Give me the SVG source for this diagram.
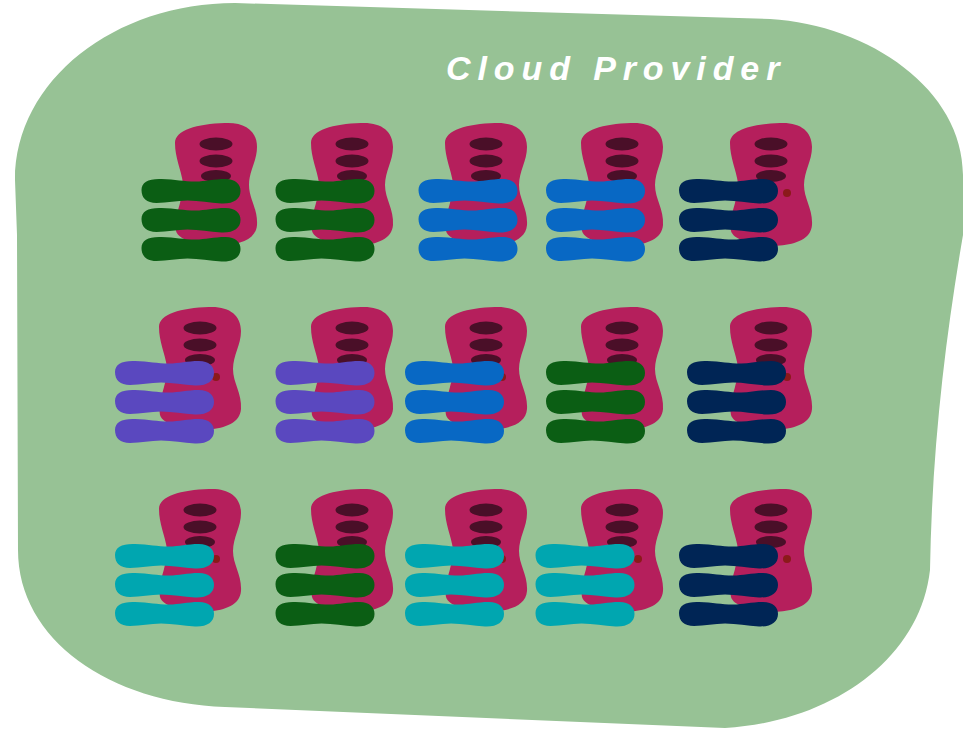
<svg xmlns="http://www.w3.org/2000/svg" xmlns:xlink="http://www.w3.org/1999/xlink" width="963" height="731" viewBox="0 0 963 731">
<style>
.bg{fill:#97c295}
.body{fill:#b51f5c}
.slot{fill:#4a0f28}
.dot{fill:#8b1a1a}
.green{fill:#0b5e14}
.blue{fill:#0868c4}
.navy{fill:#002555}
.purple{fill:#5a48bf}
.teal{fill:#00a6b0}
.title{font-family:"Liberation Sans",Arial,sans-serif;font-size:34px;font-style:italic;font-weight:700;fill:#fff;letter-spacing:6.9px}
</style>
<defs>
<g id="server">
<path class="body" d="M0,20 C0,7 22,1 50,0 C70,-1 82,8 82,24 C82,38 74,48 74,62 C74,76 83,86 82,102 C81,116 66,121 50,122.5 C33,124 4,119 1,108 C-1,98 3,88 5,80 C7,72 9,68 8,60 C6,46 0,35 0,20 Z"/>
<ellipse class="slot" cx="41" cy="21" rx="16.5" ry="6.5"/>
<ellipse class="slot" cx="41" cy="38" rx="16.5" ry="6.5"/>
<ellipse class="slot" cx="41" cy="53" rx="15" ry="6"/>
<circle class="dot" cx="57" cy="70" r="4"/>
</g>
<path id="b" d="M0,11 C0,3 7,-0.5 20,0 C34,0.5 42,2.5 54,2.5 C64,2.5 72,0 84,0 C94,0 99,5 99,12 C99,20 92,25 80,24.5 C68,24 58,21.5 46,21.5 C35,21.5 26,24 15,24 C5,24 0,19 0,11 Z"/>
<g id="bars"><use xlink:href="#b" href="#b"/><use xlink:href="#b" href="#b" y="29"/><use xlink:href="#b" href="#b" y="58"/></g>
</defs>
<path id="cloud" class="bg" d="M235,3 L770,19 C870,25 963,90 963,175 L963,235 C945,340 932,450 930,570 C920,660 830,722 725,728 L225,707 C110,703 18,640 18,550 L17,235 L15,180 C15,80 115,3 235,3 Z"/>
<g id="title"><text class="title" x="446" y="80">Cloud Provider</text></g>
<g id="n11"><use href="#server" x="175" y="123"/><use href="#bars" class="green" x="141.5" y="179"/></g>
<g id="n12"><use href="#server" x="311" y="123"/><use href="#bars" class="green" x="275.5" y="179"/></g>
<g id="n13"><use href="#server" x="445" y="123"/><use href="#bars" class="blue" x="418.5" y="179"/></g>
<g id="n14"><use href="#server" x="581" y="123"/><use href="#bars" class="blue" x="546" y="179"/></g>
<g id="n15"><use href="#server" x="730" y="123"/><use href="#bars" class="navy" x="679" y="179"/></g>
<g id="n21"><use href="#server" x="159" y="307"/><use href="#bars" class="purple" x="115" y="361"/></g>
<g id="n22"><use href="#server" x="311" y="307"/><use href="#bars" class="purple" x="275.5" y="361"/></g>
<g id="n23"><use href="#server" x="445" y="307"/><use href="#bars" class="blue" x="405" y="361"/></g>
<g id="n24"><use href="#server" x="581" y="307"/><use href="#bars" class="green" x="546" y="361"/></g>
<g id="n25"><use href="#server" x="730" y="307"/><use href="#bars" class="navy" x="687" y="361"/></g>
<g id="n31"><use href="#server" x="159" y="489"/><use href="#bars" class="teal" x="115" y="544"/></g>
<g id="n32"><use href="#server" x="311" y="489"/><use href="#bars" class="green" x="275.5" y="544"/></g>
<g id="n33"><use href="#server" x="445" y="489"/><use href="#bars" class="teal" x="405" y="544"/></g>
<g id="n34"><use href="#server" x="581" y="489"/><use href="#bars" class="teal" x="535.5" y="544"/></g>
<g id="n35"><use href="#server" x="730" y="489"/><use href="#bars" class="navy" x="679" y="544"/></g>
<g id="connectors"></g>
</svg>
